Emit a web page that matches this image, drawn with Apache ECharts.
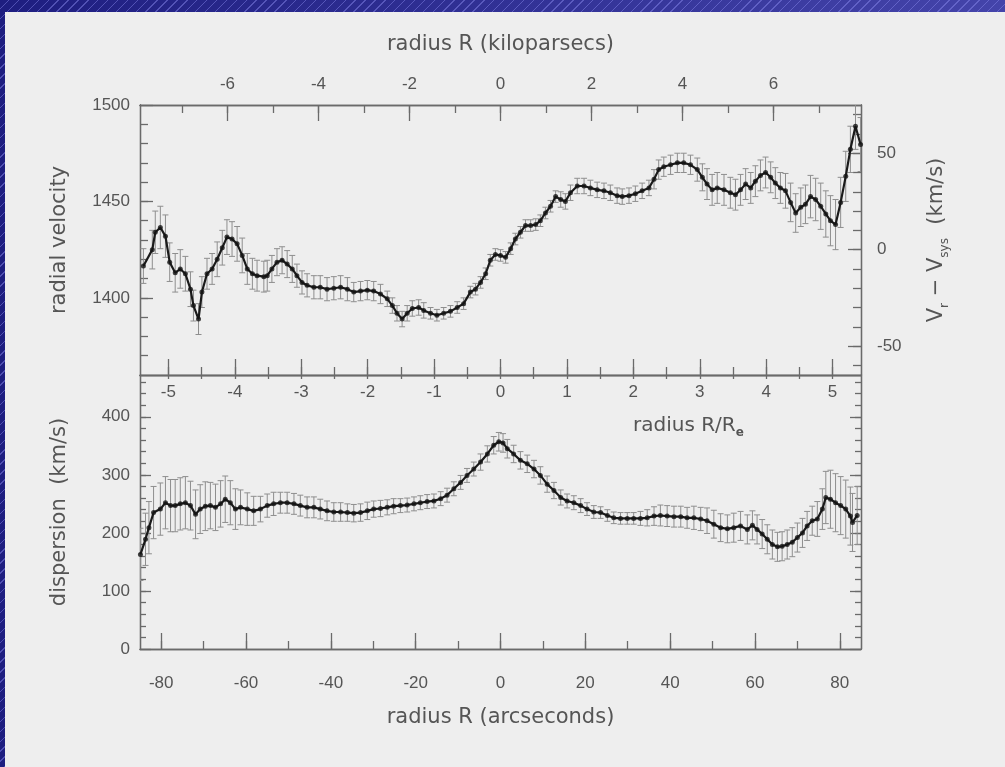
<!DOCTYPE html>
<html>
<head>
<meta charset="utf-8">
<title>radial velocity and dispersion</title>
<script src="https://cdn.jsdelivr.net/npm/echarts@6.0.0/dist/echarts.min.js"></script>
<style>
  html, body { margin: 0; padding: 0; }
  body {
    width: 1005px; height: 767px; overflow: hidden; position: relative;
    background:
      repeating-linear-gradient(135deg, rgba(0,0,0,0) 0 6px, rgba(140,140,240,0.45) 6px 7px),
      linear-gradient(90deg, #1e1e80, #4444aa);
  }
  .paper { position: absolute; left: 5px; top: 12px; right: 0; bottom: 0; background: #eeeeee; }
  #chart { position: absolute; left: 0; top: 0; width: 1005px; height: 767px; }
</style>
</head>
<body>
<div class="paper"></div>
<div id="chart"></div>
<script>
// radial velocity along the slit (arcsec, km/s)
var velR = [
  -84.2, -82.1, -81.4, -80.2, -79, -78, -76.7, -75.5, -74.3, -73.1,
  -72.4, -71.2, -70.4, -69.2, -68, -66.8, -65.6, -64.5, -63.3, -62.1,
  -60.9, -59.7, -58.5, -57.4, -55.8, -55, -53.9, -52.7, -51.5, -50.3,
  -49.1, -48, -46.8, -45.6, -44, -42.5, -40.9, -39.3, -37.7, -36.1,
  -34.6, -33, -31.4, -29.9, -28.3, -26.7, -25.5, -24.4, -23.2, -22,
  -20.8, -19.3, -18.1, -16.5, -15, -13.4, -11.8, -10.2, -8.7, -7.1,
  -5.9, -4.7, -3.5, -2.4, -1.2, 0, 1.2, 2.4, 3.5, 4.7,
  5.9, 7.1, 8.3, 9.4, 10.6, 11.8, 13, 14.2, 15.3, 16.5,
  18.1, 19.7, 21.2, 22.8, 24.4, 25.9, 27.5, 28.7, 30.3, 31.8,
  33.4, 35, 36.2, 37.3, 38.5, 40.1, 41.7, 43.2, 44.8, 46.4,
  47.6, 48.7, 49.9, 51.1, 52.7, 54.2, 55.4, 56.6, 57.8, 59,
  60.1, 61.3, 62.5, 63.7, 64.8, 66, 67.2, 68.4, 69.6, 70.8,
  71.9, 73.1, 74.3, 75.5, 76.7, 77.8, 79, 80.2, 81.4, 82.5,
  83.7, 84.9
];
var velV = [
  1416.5, 1425, 1434, 1436.5, 1432, 1418.5, 1413, 1415, 1412.5, 1404.5,
  1396, 1389, 1403, 1412.5, 1415, 1420, 1426, 1431.5, 1430.5, 1428,
  1422, 1415, 1412.5, 1411.5, 1411, 1411.5, 1415, 1418.5, 1419.5, 1417.5,
  1415, 1411.5, 1408, 1406.5, 1405.5, 1405.5, 1404.5, 1405, 1405.5, 1404.5,
  1403, 1403.5, 1404, 1403.5, 1402, 1399.5, 1396, 1392, 1389, 1392,
  1394.5, 1395, 1393.5, 1392, 1391, 1392, 1393, 1395, 1397, 1403,
  1404.5, 1408, 1412.5, 1419.5, 1422.5, 1422, 1421, 1425.5, 1430.5, 1434,
  1437.5, 1437.5, 1438, 1440, 1444, 1447.5, 1452.5, 1451, 1450, 1454.5,
  1458, 1458, 1457, 1456, 1455.5, 1454.5, 1453, 1452.5, 1453, 1454,
  1455.5, 1457, 1461.5, 1466.5, 1468, 1469, 1470, 1470, 1469, 1466.5,
  1462.5, 1459, 1456, 1457, 1456, 1454.5, 1453.5, 1456, 1459, 1457,
  1460.5, 1463.5, 1465, 1462.5, 1459.5, 1457, 1455.5, 1449.5, 1444, 1447,
  1448.5, 1452.5, 1451, 1447.5, 1443.5, 1440, 1438, 1449.5, 1463, 1477,
  1489, 1479.5
];
var velErr = [
  9, 10, 11, 11, 11, 10, 10, 10, 9, 9,
  8, 8, 8, 8, 8, 9, 9, 9, 9, 9,
  9, 8, 8, 8, 8, 8, 7, 7, 7, 7,
  7, 6, 6, 6, 6, 6, 6, 6, 6, 6,
  5, 5, 5, 5, 5, 4, 4, 4, 4, 4,
  4, 4, 4, 3, 3, 3, 3, 3, 3, 3,
  3, 3, 3, 3, 3, 3, 3, 3, 3, 3,
  3, 3, 3, 3, 3, 3, 3, 4, 4, 4,
  4, 4, 4, 4, 4, 4, 4, 4, 4, 4,
  4, 4, 5, 5, 5, 5, 5, 5, 5, 6,
  7, 8, 8, 8, 8, 8, 8, 8, 8, 8,
  8, 8, 8, 8, 8, 8, 9, 10, 10, 10,
  10, 11, 11, 12, 12, 13, 13, 13, 13, 12,
  12, 14
];

// velocity dispersion (arcsec, km/s)
var dispR = [
  -84.9, -83.7, -82.9, -81.8, -80.2, -79, -77.8, -76.7, -75.5, -74.3,
  -73.1, -71.9, -70.8, -69.6, -68.4, -67.2, -66, -64.9, -63.7, -62.5,
  -61.3, -59.7, -58.2, -56.6, -55, -53.5, -51.9, -50.3, -48.7, -47.2,
  -45.6, -44, -42.5, -40.9, -39.3, -37.7, -36.1, -34.6, -33, -31.4,
  -29.9, -28.3, -26.7, -25.2, -23.6, -22, -20.4, -18.9, -17.3, -15.7,
  -14.1, -12.6, -11, -9.4, -7.9, -6.3, -4.7, -3.1, -1.6, -0.4,
  0.6, 1.6, 3.1, 4.7, 6.3, 7.9, 9.4, 11, 12.6, 14.2,
  15.7, 17.3, 18.9, 20.4, 22, 23.6, 25.2, 26.7, 28.3, 29.9,
  31.4, 33, 34.6, 36.2, 37.7, 39.3, 40.9, 42.5, 44, 45.6,
  47.2, 48.7, 50.3, 51.9, 53.5, 55, 56.6, 58.2, 59.4, 60.5,
  61.7, 62.9, 64.1, 65.3, 66.4, 67.6, 68.8, 70, 71.2, 72.3,
  73.5, 74.7, 75.9, 76.7, 77.8, 79, 80.2, 81.4, 82.5, 83,
  84.1
];
var dispV = [
  163, 189, 209, 235, 241, 252, 247, 247, 250, 252,
  247, 232, 241, 246, 247, 244, 250, 258, 252, 241,
  244, 241, 238, 241, 247, 250, 252, 252, 250, 247,
  244, 244, 241, 238, 236, 236, 235, 234, 235, 238,
  241, 242, 244, 246, 247, 248, 250, 252, 254, 255,
  259, 265, 276, 287, 299, 310, 322, 336, 351, 357,
  355, 345, 336, 325, 319, 310, 299, 284, 273, 261,
  255, 252, 247, 241, 236, 235, 230, 226, 225, 225,
  225, 225, 226, 229, 230, 229, 228, 228, 226, 226,
  224, 221, 215, 209, 207, 209, 212, 206, 213, 206,
  198, 189, 180, 176, 177, 180, 184, 192, 200, 212,
  221, 224, 241, 261, 258, 252, 247, 241, 229, 218,
  230
];
var dispErr = [
  45, 45, 45, 45, 45, 45, 45, 45, 45, 45,
  42, 42, 42, 42, 40, 40, 40, 40, 38, 35, 30,
  28, 25, 22, 20, 20, 18, 18, 18, 18, 18,
  18, 17, 17, 16, 16, 15, 15, 15, 15, 14,
  14, 13, 13, 12, 12, 12, 12, 12, 12, 12,
  12, 12, 12, 12, 12, 14, 14, 15, 16, 16,
  16, 15, 15, 15, 15, 15, 14, 14, 13, 12,
  12, 12, 11, 11, 10, 10, 10, 10, 10, 10,
  12, 14, 16, 18, 18, 18, 18, 18, 20, 20,
  22, 24, 24, 24, 25, 25, 25, 25, 25, 25,
  25, 25, 25, 25, 25, 25, 25, 25, 25, 25,
  30, 35, 45, 50, 50, 50, 50, 50, 50, 50
];

// tick labels
var arcsecLabels = [-80, -60, -40, -20, 0, 20, 40, 60, 80];
var kpcLabels = [-6, -4, -2, 0, 2, 4, 6];
var rreLabels = [-5, -4, -3, -2, -1, 0, 1, 2, 3, 4, 5];
var velLabels = [1400, 1450, 1500];
var vsysLabels = [-50, 0, 50];
var dispLabels = [0, 100, 200, 300, 400];

var ARCSEC_PER_KPC = 10.73;
var ARCSEC_PER_RE = 15.66;
var V_SYS = 1425;
var R_MAX = 85;

var AXIS = '#6a6a6a';
var TEXT = '#555555';
var TICK_FONT = 'Liberation Sans';
var NAME_FONT = 'DejaVu Sans';

function steps(from, to, step) {
  var out = [];
  for (var v = from; v <= to + 1e-9; v += step) out.push(Math.round(v * 1000) / 1000);
  return out;
}

// one frame edge: ticks pointing inward, optional labels
function edge(base, tickVals, tickLen, labelVals, labelExtra) {
  var ax = Object.assign({
    type: 'value',
    splitLine: { show: false },
    axisLine: { show: true, onZero: false, lineStyle: { color: AXIS, width: 1.3 } },
    axisTick: { show: true, inside: true, length: tickLen, customValues: tickVals,
                lineStyle: { color: AXIS, width: 1.3 } },
    axisLabel: labelVals ? Object.assign({
      show: true, customValues: labelVals, color: TEXT,
      fontFamily: TICK_FONT, fontSize: 17,
      formatter: function (v) { return String(v); }
    }, labelExtra || {}) : { show: false }
  }, base);
  return ax;
}

function errorBar(params, api) {
  var x = api.value(0);
  var hi = api.coord([x, api.value(2)]);
  var lo = api.coord([x, api.value(1)]);
  var cap = 3;
  var st = { stroke: '#8e8e8e', lineWidth: 1 };
  return {
    type: 'group',
    children: [
      { type: 'line', shape: { x1: hi[0], y1: hi[1], x2: lo[0], y2: lo[1] }, style: st },
      { type: 'line', shape: { x1: hi[0] - cap, y1: hi[1], x2: hi[0] + cap, y2: hi[1] }, style: st },
      { type: 'line', shape: { x1: lo[0] - cap, y1: lo[1], x2: lo[0] + cap, y2: lo[1] }, style: st }
    ]
  };
}

var nameStyle = { color: TEXT, fontFamily: NAME_FONT, fontSize: 21 };
var kMax = R_MAX / ARCSEC_PER_KPC;
var eMax = R_MAX / ARCSEC_PER_RE;

var velPts = velR.map(function (r, i) { return [r, velV[i]]; });
var dispPts = dispR.map(function (r, i) { return [r, dispV[i]]; });

var chart = echarts.init(document.getElementById('chart'));
chart.setOption({
  animation: false,
  backgroundColor: 'transparent',
  grid: [
    { left: 140, top: 105, width: 721, height: 270 },
    { left: 140, top: 375, width: 721, height: 274 }
  ],
  xAxis: [
    // top panel, top edge: kiloparsecs
    edge({ gridIndex: 0, position: 'top', min: -kMax, max: kMax }, steps(-7, 7, 1), 8),
    edge({ gridIndex: 0, position: 'top', min: -kMax, max: kMax,
           name: 'radius R (kiloparsecs)', nameLocation: 'middle', nameGap: 50, nameTextStyle: nameStyle },
         kpcLabels, 16, kpcLabels, { margin: 12 }),
    // top panel, bottom edge: R/Re ticks
    edge({ gridIndex: 0, position: 'bottom', min: -eMax, max: eMax }, steps(-5, 5, 0.5), 8),
    edge({ gridIndex: 0, position: 'bottom', min: -eMax, max: eMax }, rreLabels, 16),
    // top panel data axis (arcsec)
    { gridIndex: 0, type: 'value', min: -R_MAX, max: R_MAX, show: false },
    // bottom panel, top edge: R/Re labels inside
    edge({ gridIndex: 1, position: 'top', min: -eMax, max: eMax }, steps(-5, 5, 0.5), 4,
         rreLabels, { inside: true, margin: 9 }),
    // bottom panel, bottom edge: arcseconds
    edge({ gridIndex: 1, position: 'bottom', min: -R_MAX, max: R_MAX }, steps(-80, 80, 10), 8),
    edge({ gridIndex: 1, position: 'bottom', min: -R_MAX, max: R_MAX,
           name: 'radius R (arcseconds)', nameLocation: 'middle', nameGap: 58, nameTextStyle: nameStyle },
         arcsecLabels, 16, arcsecLabels, { margin: 26 })
  ],
  yAxis: [
    edge({ gridIndex: 0, position: 'left', min: 1360, max: 1500 }, steps(1370, 1490, 10), 8),
    edge({ gridIndex: 0, position: 'left', min: 1360, max: 1500,
           name: 'radial velocity', nameLocation: 'middle', nameGap: 70, nameRotate: 90, nameTextStyle: nameStyle },
         velLabels, 13, velLabels, { margin: 10 }),
    edge({ gridIndex: 0, position: 'right', min: 1360 - V_SYS, max: 1500 - V_SYS }, steps(-60, 70, 10), 8),
    edge({ gridIndex: 0, position: 'right', min: 1360 - V_SYS, max: 1500 - V_SYS,
           name: '{n|V}{s|r}{n| − V}{s|sys}{n|  (km/s)}', nameLocation: 'middle', nameGap: 62, nameRotate: 90,
           nameTextStyle: { color: TEXT, fontFamily: NAME_FONT, fontSize: 21,
             rich: {
               n: { color: TEXT, fontFamily: NAME_FONT, fontSize: 21, lineHeight: 28 },
               s: { color: TEXT, fontFamily: NAME_FONT, fontSize: 12, lineHeight: 14, verticalAlign: 'bottom' }
             } } },
         vsysLabels, 13, vsysLabels, { margin: 16 }),
    edge({ gridIndex: 1, position: 'left', min: 0, max: 472 }, steps(20, 460, 20), 6),
    edge({ gridIndex: 1, position: 'left', min: 0, max: 472,
           name: 'dispersion  (km/s)', nameLocation: 'middle', nameGap: 70, nameRotate: 90, nameTextStyle: nameStyle },
         dispLabels, 11, dispLabels, { margin: 10 }),
    edge({ gridIndex: 1, position: 'right', min: 0, max: 472 }, steps(20, 460, 20), 6),
    edge({ gridIndex: 1, position: 'right', min: 0, max: 472 }, dispLabels, 11)
  ],
  graphic: [{
    type: 'text', left: 633, top: 416, silent: true,
    style: {
      text: '{a|radius R/R}{b|e}',
      rich: {
        a: { fill: TEXT, fontFamily: NAME_FONT, fontSize: 20, lineHeight: 26 },
        b: { fill: TEXT, fontFamily: NAME_FONT, fontSize: 12, fontWeight: 'bold', lineHeight: 12, verticalAlign: 'bottom' }
      }
    }
  }],
  series: [
    {
      type: 'custom', xAxisIndex: 4, yAxisIndex: 1, clip: true, silent: true, z: 2,
      renderItem: errorBar,
      data: velR.map(function (r, i) { return [r, velV[i] - velErr[i], velV[i] + velErr[i]]; })
    },
    {
      type: 'line', xAxisIndex: 4, yAxisIndex: 1, showSymbol: false, z: 3, silent: true,
      lineStyle: { color: '#1a1a1a', width: 2.2 }, data: velPts
    },
    {
      type: 'scatter', xAxisIndex: 4, yAxisIndex: 1, symbol: 'circle', symbolSize: 5, z: 4, silent: true,
      itemStyle: { color: '#141414' }, data: velPts
    },
    {
      type: 'custom', xAxisIndex: 7, yAxisIndex: 5, clip: true, silent: true, z: 2,
      renderItem: errorBar,
      data: dispR.map(function (r, i) { return [r, dispV[i] - dispErr[i], dispV[i] + dispErr[i]]; })
    },
    {
      type: 'line', xAxisIndex: 7, yAxisIndex: 5, showSymbol: false, z: 3, silent: true,
      lineStyle: { color: '#1a1a1a', width: 2.2 }, data: dispPts
    },
    {
      type: 'scatter', xAxisIndex: 7, yAxisIndex: 5, symbol: 'circle', symbolSize: 5, z: 4, silent: true,
      itemStyle: { color: '#141414' }, data: dispPts
    }
  ]
});
</script>
</body>
</html>
